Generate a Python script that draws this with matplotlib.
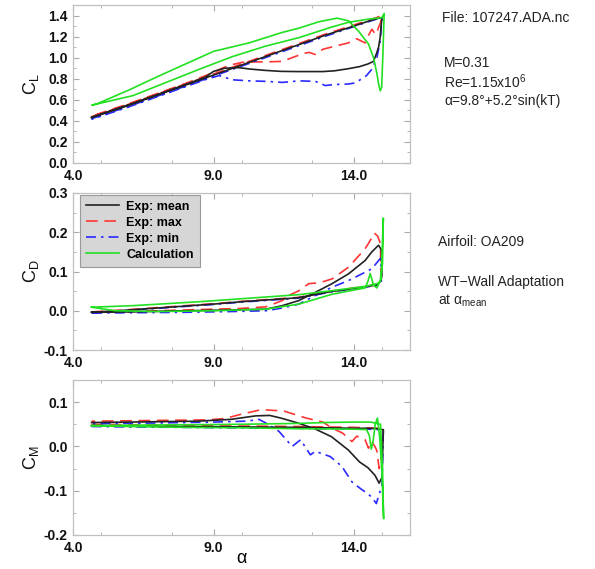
import numpy as np
import matplotlib
matplotlib.use("Agg")
import matplotlib.pyplot as plt
from matplotlib.ticker import MultipleLocator

plt.rcParams['font.family'] = ['Liberation Sans', 'DejaVu Sans']
plt.rcParams['mathtext.fontset'] = 'custom'
plt.rcParams['mathtext.rm'] = 'Liberation Sans'
plt.rcParams['mathtext.it'] = 'Liberation Sans:italic'

# ---------------- CL ----------------
cl_up_a = [4.65, 6.0, 7.0, 8.0, 9.0, 10.0, 11.0, 12.0, 13.0, 14.0, 14.5, 14.8, 15.0]
cl_mean_up = [0.43, 0.55, 0.645, 0.74, 0.835, 0.93, 1.025, 1.12, 1.215, 1.30, 1.345, 1.37, 1.38]
cl_max_up = [0.44, 0.56, 0.655, 0.75, 0.845, 0.94, 1.035, 1.13, 1.225, 1.31, 1.355, 1.38, 1.40]
cl_min_up = [0.42, 0.54, 0.635, 0.73, 0.825, 0.92, 1.015, 1.11, 1.205, 1.295, 1.34, 1.365, 1.375]

cl_mean_dn_a = [15.0, 14.97, 14.94, 14.88, 14.82, 14.7, 14.5, 14.2, 13.8, 13.3, 12.9, 12.0,
                11.4, 10.8, 10.3, 9.9, 9.4, 9.0, 8.7, 8.0, 7.0, 6.0, 4.65]
cl_mean_dn = [1.38, 1.30, 1.20, 1.10, 1.05, 0.965, 0.94, 0.915, 0.895, 0.875, 0.868, 0.868,
              0.87, 0.88, 0.892, 0.905, 0.90, 0.87, 0.815, 0.745, 0.65, 0.555, 0.435]

cl_max_dn_a = [15.0, 14.95, 14.88, 14.8, 14.72, 14.64, 14.5, 14.4, 14.25, 14.1, 13.8, 13.34,
               12.9, 12.63, 12.4, 12.2, 11.9, 11.45, 10.9, 10.5, 10.0, 9.6, 9.3, 9.0, 8.0,
               7.0, 6.0, 4.65]
cl_max_dn = [1.40, 1.33, 1.29, 1.22, 1.24, 1.27, 1.20, 1.14, 1.16, 1.18, 1.14, 1.11,
             1.08, 1.03, 1.05, 1.04, 1.01, 0.965, 0.96, 0.96, 0.955, 0.93, 0.90, 0.86, 0.755,
             0.66, 0.565, 0.445]

cl_min_dn_a = [15.0, 14.94, 14.82, 14.64, 14.45, 14.28, 14.05, 13.8, 13.3, 12.98, 12.63,
               12.04, 11.45, 10.9, 10.26, 9.67, 9.2, 8.8, 8.0, 7.0, 6.0, 4.65]
cl_min_dn = [1.375, 1.16, 1.0, 0.89, 0.83, 0.80, 0.76, 0.75, 0.745, 0.735, 0.775,
             0.78, 0.765, 0.775, 0.78, 0.79, 0.83, 0.80, 0.725, 0.63, 0.535, 0.415]

cl_calc_a = [4.68, 6.13, 7.31, 8.49, 9.67, 10.86, 12.04, 13.2, 13.8, 14.5, 15.0, 15.08,
             15.03, 14.99, 14.94, 14.88, 14.82, 14.7, 14.52, 14.17, 13.81, 13.4, 12.74,
             12.04, 11.45, 10.26, 9.0, 8.0, 7.0, 6.0, 4.83, 4.68]
cl_calc = [0.55, 0.64, 0.765, 0.89, 1.01, 1.11, 1.19, 1.29, 1.335, 1.365, 1.38, 1.42,
           1.0, 0.72, 0.685, 0.75, 0.85, 1.0, 1.13, 1.25, 1.35, 1.375, 1.34,
           1.28, 1.24, 1.14, 1.06, 0.94, 0.82, 0.695, 0.56, 0.55]

# ---------------- CD ----------------
cd_up_a = [4.65, 6.0, 7.0, 8.0, 9.0, 10.0, 11.0, 12.0, 13.2, 14.4, 14.82, 14.95]
cd_mean_up = [-0.004, 0.002, 0.007, 0.012, 0.017, 0.023, 0.028, 0.033, 0.049, 0.061, 0.066, 0.075]
cd_max_up = [-0.003, 0.003, 0.008, 0.013, 0.018, 0.024, 0.029, 0.034, 0.050, 0.062, 0.067, 0.076]
cd_min_up = [-0.005, 0.001, 0.006, 0.011, 0.016, 0.022, 0.027, 0.032, 0.048, 0.060, 0.065, 0.073]

cd_mean_dn_a = [15.0, 14.98, 14.88, 14.64, 14.4, 13.81, 13.22, 12.63, 12.04, 11.45, 10.86,
                9.67, 8.0, 6.0, 4.65]
cd_mean_dn = [0.09, 0.155, 0.167, 0.15, 0.128, 0.094, 0.069, 0.047, 0.026, 0.013, 0.004,
              0.002, 0.0, -0.003, -0.004]

cd_max_dn_a = [14.96, 14.95, 14.85, 14.73, 14.55, 14.4, 13.81, 13.22, 12.75, 12.39, 12.04,
               11.68, 11.45, 10.86, 10.0, 8.0, 6.0, 4.65]
cd_max_dn = [0.08, 0.17, 0.19, 0.198, 0.175, 0.158, 0.111, 0.081, 0.071, 0.069, 0.051,
             0.039, 0.026, 0.010, 0.006, 0.002, -0.002, -0.004]

cd_min_dn_a = [14.98, 14.96, 14.94, 14.64, 14.4, 13.81, 13.22, 12.63, 12.04, 11.45, 10.86,
               9.67, 8.0, 6.0, 4.65]
cd_min_dn = [0.075, 0.13, 0.133, 0.107, 0.098, 0.077, 0.06, 0.039, 0.017, 0.007, 0.0,
             -0.002, -0.004, -0.005, -0.006]

cd_calc_a = [4.65, 6.13, 8.49, 10.86, 12.04, 13.2, 14.4, 14.88, 14.97, 15.05, 15.02, 14.94,
             14.82, 14.7, 14.58, 14.5, 14.4, 13.8, 13.22, 12.04, 10.86, 9.0, 7.0, 5.5, 4.65]
cd_calc = [0.009, 0.013, 0.023, 0.035, 0.041, 0.051, 0.062, 0.07, 0.08, 0.236, 0.12, 0.077,
           0.058, 0.065, 0.095, 0.075, 0.058, 0.05, 0.042, 0.017, 0.004, 0.0, -0.002, 0.0, 0.009]

# ---------------- CM ----------------
cm_up_a = [4.65, 6.0, 8.0, 10.0, 12.0, 13.0, 14.0, 14.5, 14.85, 15.0]
cm_mean_up = [0.047, 0.046, 0.045, 0.044, 0.043, 0.042, 0.041, 0.041, 0.040, 0.038]
cm_max_up = [0.050, 0.049, 0.047, 0.046, 0.045, 0.044, 0.043, 0.042, 0.041, 0.040]
cm_min_up = [0.045, 0.044, 0.043, 0.042, 0.041, 0.040, 0.040, 0.039, 0.038, 0.036]

cm_mean_dn_a = [15.05, 15.0, 14.9, 14.75, 14.5, 14.2, 13.8, 13.2, 12.6, 12.0, 11.4, 11.0,
                10.5, 9.6, 8.4, 6.0, 4.65]
cm_mean_dn = [0.038, -0.07, -0.083, -0.065, -0.048, -0.035, -0.008, 0.022, 0.04, 0.053,
              0.064, 0.07, 0.069, 0.061, 0.057, 0.055, 0.054]

cm_max_dn_a = [15.05, 15.0, 14.9, 14.82, 14.75, 14.62, 14.52, 14.4, 14.28, 14.1, 13.93,
               13.6, 13.2, 12.9, 12.3, 11.5, 10.7, 10.0, 9.4, 8.8, 6.0, 4.65]
cm_max_dn = [0.04, -0.02, -0.05, -0.01, 0.0, 0.012, -0.004, 0.015, 0.02, 0.023, 0.011,
             0.03, 0.042, 0.055, 0.064, 0.08, 0.083, 0.073, 0.063, 0.06, 0.058, 0.057]

cm_min_dn_a = [15.05, 15.0, 14.94, 14.8, 14.64, 14.52, 14.23, 13.93, 13.57, 13.16, 12.63,
               12.45, 12.1, 11.8, 11.33, 10.86, 10.62, 10.15, 9.0, 6.0, 4.65]
cm_min_dn = [0.036, -0.09, -0.1, -0.129, -0.115, -0.108, -0.095, -0.08, -0.045, -0.023,
             -0.011, -0.019, 0.015, 0.0, 0.034, 0.053, 0.061, 0.057, 0.055, 0.052, 0.051]

cm_calc_a = [4.65, 6.0, 8.0, 10.0, 12.0, 13.0, 14.0, 14.6, 14.95, 15.02, 15.06, 15.0, 14.92,
             14.84, 14.76, 14.68, 14.62, 14.55, 14.45, 14.0, 12.0, 10.0, 8.0, 6.0, 4.65]
cm_calc = [0.047, 0.048, 0.049, 0.05, 0.052, 0.054, 0.055, 0.055, 0.05, -0.05, -0.163, -0.06,
           0.02, 0.064, 0.05, 0.01, -0.006, 0.025, 0.038, 0.039, 0.04, 0.042, 0.043, 0.045, 0.047]

legend_labels = ["Exp: mean", "Exp: max", "Exp: min", "Calculation"]
x_ticks = [4.0, 9.0, 14.0]

# ---------------- styles ----------------
C_BLACK = '#222222'
C_RED = '#ff3535'
C_BLUE = '#2a2aff'
C_GREEN = '#22e022'
LW = 1.2
DASH_RED = (0, (7, 4))
DASH_BLUE = (0, (6, 3, 1.5, 3))

fig = plt.figure(figsize=(5.95, 5.69), dpi=100)
H = 569.0
W = 595.0
def axrect(left, top, right, bottom):
    return [left / W, 1 - bottom / H, (right - left) / W, (bottom - top) / H]

ax1 = fig.add_axes(axrect(73.3, 5, 410, 163))
ax2 = fig.add_axes(axrect(73.3, 193, 410, 350))
ax3 = fig.add_axes(axrect(73.3, 380, 410, 535))

def loop(a1, v1, a2, v2):
    return np.concatenate([a1, a2]), np.concatenate([v1, v2])

def draw(ax, up_a, mean_up, max_up, min_up, mean_dn, max_dn, min_dn, calc):
    x, y = loop(up_a, max_up, max_dn[0], max_dn[1])
    lr, = ax.plot(x, y, color=C_RED, lw=LW, linestyle=DASH_RED)
    x, y = loop(up_a, min_up, min_dn[0], min_dn[1])
    lb, = ax.plot(x, y, color=C_BLUE, lw=LW, linestyle=DASH_BLUE)
    x, y = loop(up_a, mean_up, mean_dn[0], mean_dn[1])
    lk, = ax.plot(x, y, color=C_BLACK, lw=LW)
    lg, = ax.plot(calc[0], calc[1], color=C_GREEN, lw=LW)
    return lk, lr, lb, lg

draw(ax1, cl_up_a, cl_mean_up, cl_max_up, cl_min_up,
     (cl_mean_dn_a, cl_mean_dn), (cl_max_dn_a, cl_max_dn), (cl_min_dn_a, cl_min_dn),
     (cl_calc_a, cl_calc))
handles = draw(ax2, cd_up_a, cd_mean_up, cd_max_up, cd_min_up,
               (cd_mean_dn_a, cd_mean_dn), (cd_max_dn_a, cd_max_dn), (cd_min_dn_a, cd_min_dn),
               (cd_calc_a, cd_calc))
draw(ax3, cm_up_a, cm_mean_up, cm_max_up, cm_min_up,
     (cm_mean_dn_a, cm_mean_dn), (cm_max_dn_a, cm_max_dn), (cm_min_dn_a, cm_min_dn),
     (cm_calc_a, cm_calc))

ylims = [(0.0, 1.5), (-0.1, 0.3), (-0.2, 0.15)]
yticks = [[0.0, 0.2, 0.4, 0.6, 0.8, 1.0, 1.2, 1.4], [-0.1, 0.0, 0.1, 0.2, 0.3], [-0.2, -0.1, 0.0, 0.1]]
ymin = [0.1, 0.05, 0.05]
ylabels = ["C$_\\mathrm{L}$", "C$_\\mathrm{D}$", "C$_\\mathrm{M}$"]
for ax, yl, yt, mn, lab in zip([ax1, ax2, ax3], ylims, yticks, ymin, ylabels):
    ax.set_xlim(4.0, 16.0)
    ax.set_ylim(*yl)
    ax.set_xticks(x_ticks)
    ax.set_xticklabels(["%.1f" % t for t in x_ticks])
    ax.set_yticks(yt)
    ax.set_yticklabels(["%.1f" % t for t in yt])
    ax.xaxis.set_minor_locator(MultipleLocator(2.5))
    ax.yaxis.set_minor_locator(MultipleLocator(mn))
    ax.tick_params(which='both', direction='in', top=True, right=True, color='#aaaaaa')
    ax.tick_params(which='major', length=4, width=0.8, pad=4)
    ax.tick_params(which='minor', length=2, width=0.6)
    for lbl in ax.get_xticklabels() + ax.get_yticklabels():
        lbl.set_fontweight('bold')
        lbl.set_fontsize(10)
        lbl.set_color('#111111')
    for s in ax.spines.values():
        s.set_color('#c0c0c0')
        s.set_linewidth(0.9)
    ax.set_ylabel(lab, fontsize=13, color='#111111')
    ax.yaxis.set_label_coords(-0.095, 0.5)
    ax.set_ylim(*yl)

ax3.set_xlabel("α", fontsize=13, labelpad=-3)

leg = ax2.legend(handles, legend_labels, loc='upper left', bbox_to_anchor=(0.02, 0.99),
                 borderaxespad=0, frameon=True, fancybox=False, facecolor='#d6d6d6',
                 edgecolor='#9a9a9a', framealpha=1.0, handlelength=2.6, handletextpad=0.6,
                 labelspacing=0.32, borderpad=0.5, prop={'weight': 'bold', 'size': 9})
leg.get_frame().set_linewidth(0.8)

txt = dict(fontsize=10, color='#222222', va='center', ha='left')
fig.text(442 / W, 1 - 18 / H, "File: 107247.ADA.nc", **txt)
fig.text(444 / W, 1 - 63 / H, "M=0.31", **txt)
fig.text(444 / W, 1 - 82 / H, "Re=1.15x10$^{6}$", **txt)
fig.text(444 / W, 1 - 101 / H, "α=9.8°+5.2°sin(kT)", **txt)
fig.text(438 / W, 1 - 242 / H, "Airfoil: OA209", **txt)
fig.text(438 / W, 1 - 282 / H, "WT−Wall Adaptation", **txt)
fig.text(438 / W, 1 - 301 / H, "at α$_{\\mathrm{mean}}$", **txt)

fig.savefig("out.png", dpi=100, facecolor='white')
